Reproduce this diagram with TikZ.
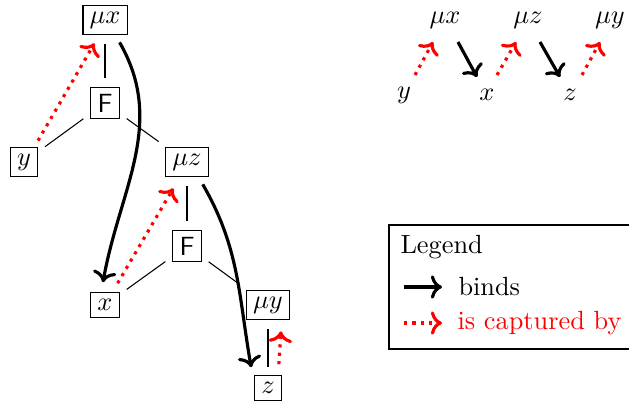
\documentclass[tikz,border=0pt]{standalone}
\usetikzlibrary{arrows.meta}
\begin{document}
\begin{tikzpicture}[x=0.38pt,y=-0.38pt,
  box/.style={draw,inner sep=2.5pt},
  plain/.style={inner sep=1pt},
  tree/.style={shorten <=3.3pt,shorten >=3.3pt},
  binds/.style={->,very thick},
  capt/.style={->,very thick,dotted,red}]
\clip (0,0) rectangle (629,405);
% tree
\node[box] (mux) at (105,20) {$\mu x$};
\node[box] (F1) at (105,103) {$\mathsf{F}$};
\node[box] (y) at (24,162) {$y$};
\node[box] (muz) at (187,162) {$\mu z$};
\node[box] (F2) at (187,246) {$\mathsf{F}$};
\node[box] (x) at (105,305) {$x$};
\node[box] (muy) at (268,305) {$\mu y$};
\node[box] (z) at (268,388) {$z$};
\draw[tree] (mux) -- (F1);
\draw[tree] (F1) -- (y);
\draw[tree] (F1) -- (muz);
\draw[tree] (muz) -- (F2);
\draw[tree] (F2) -- (x);
\draw[tree] (F2) -- (muy);
\draw[tree] (muy) -- (z);
% binding arrows
\draw[binds] ([shift={(-8,7)}]mux.south east) to[out=-60,in=80] ([shift={(-2,-10)}]x.north);
\draw[binds] ([shift={(-6,7)}]muz.south east) to[out=-60,in=100] ([shift={(-3,-8)}]z.north west);
% capture arrows
\draw[capt] ([shift={(0,-6)}]y.north east) -- ([shift={(12,8)}]mux.south west);
\draw[capt] ([shift={(-2,-9)}]x.north east) -- ([shift={(8,11)}]muz.south west);
\draw[capt] ([shift={(-3,-11)}]z.north east) -- ([shift={(-9,11)}]muy.south east);
% right chain
\node[plain] (rmux) at (445,20) {$\mu x$};
\node[plain] (rmuz) at (528,20) {$\mu z$};
\node[plain] (rmuy) at (610,20) {$\mu y$};
\node[plain] (ry) at (404,95) {$y$};
\node[plain] (rx) at (487,95) {$x$};
\node[plain] (rz) at (570,95) {$z$};
\draw[capt] ([shift={(11,-20)}]ry.center) -- ([shift={(-12,22)}]rmux.center);
\draw[binds] ([shift={(13,22)}]rmux.center) -- ([shift={(-10,-18)}]rx.center);
\draw[capt] ([shift={(10,-20)}]rx.center) -- ([shift={(-12,22)}]rmuz.center);
\draw[binds] ([shift={(12,22)}]rmuz.center) -- ([shift={(-10,-18)}]rz.center);
\draw[capt] ([shift={(12,-20)}]rz.center) -- ([shift={(-10,22)}]rmuy.center);
% legend
\draw (389,225) rectangle (660,349);
\node[anchor=base west,inner sep=0pt] (leg) at (400,253) {Legend};
\coordinate (b1) at (404,287);
\coordinate (b2) at (442,287);
\coordinate (c1) at (404,323);
\coordinate (c2) at (442,323);
\draw[binds] (b1) -- (b2);
\draw[capt] (c1) -- (c2);
\node[anchor=base west,inner sep=0pt] (lb) at (458,295) {binds};
\node[anchor=base west,inner sep=0pt,text=red] (lc) at (457,329) {is captured by};
\end{tikzpicture}
\end{document}
